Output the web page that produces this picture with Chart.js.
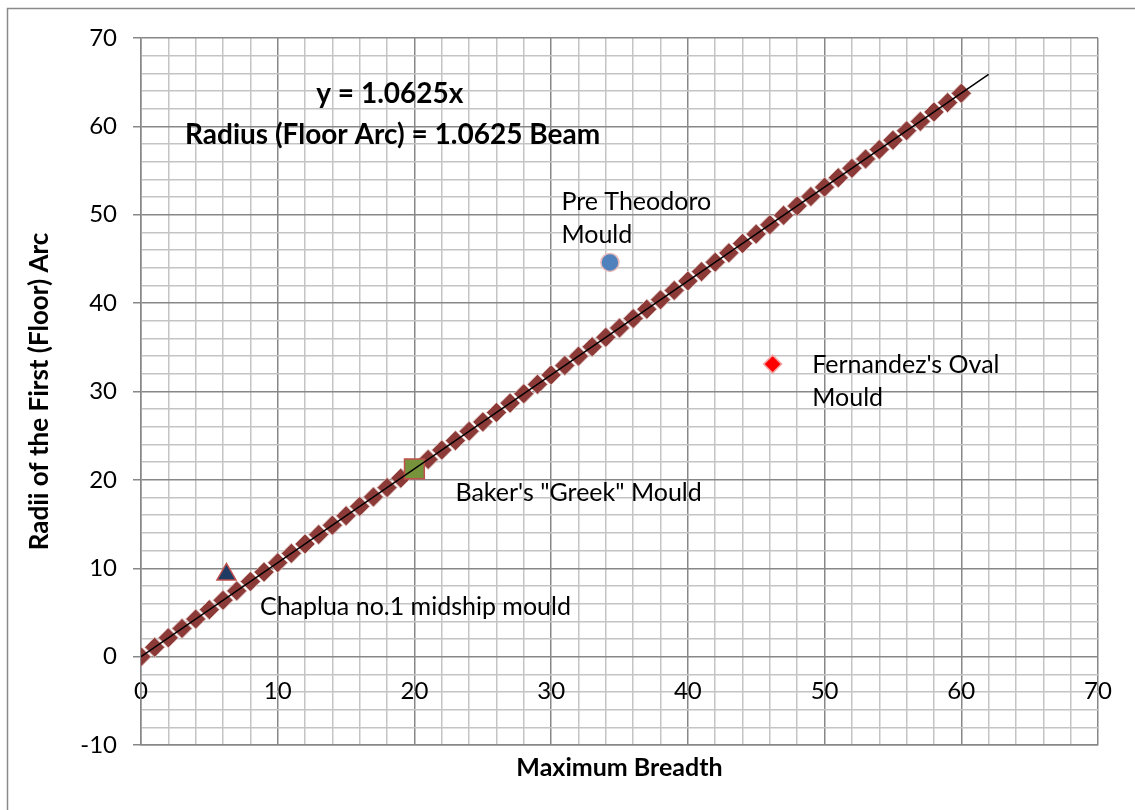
<!DOCTYPE html>
<html>
<head>
<meta charset="utf-8">
<script src="https://cdn.jsdelivr.net/npm/chart.js@4.4.0/dist/chart.umd.min.js"></script>
<style>
html, body { margin: 0; padding: 0; background: #fff; }
#wrap { width: 1135px; height: 810px; }
</style>
</head>
<body>
<div id="wrap"><canvas id="myChart"></canvas></div>
<script>
// fitted series (Radius = 1.0625 Beam)
const breadth = [0,1,2,3,4,5,6,7,8,9,10,11,12,13,14,15,16,17,18,19,20,21,22,23,24,25,26,27,28,29,30,
  31,32,33,34,35,36,37,38,39,40,41,42,43,44,45,46,47,48,49,50,51,52,53,54,55,56,57,58,59,60];
const radius = [0,1.0625,2.125,3.1875,4.25,5.3125,6.375,7.4375,8.5,9.5625,10.625,11.6875,12.75,13.8125,14.875,15.9375,
  17,18.0625,19.125,20.1875,21.25,22.3125,23.375,24.4375,25.5,26.5625,27.625,28.6875,29.75,30.8125,31.875,
  32.9375,34,35.0625,36.125,37.1875,38.25,39.3125,40.375,41.4375,42.5,43.5625,44.625,45.6875,46.75,47.8125,
  48.875,49.9375,51,52.0625,53.125,54.1875,55.25,56.3125,57.375,58.4375,59.5,60.5625,61.625,62.6875,63.75];

// trendline end points
const trendX = [0, 62];
const trendY = [0, 65.875];

// individual moulds
const mouldNames = [['Chaplua no.1 midship mould'], ['Baker\'s "Greek" Mould'], ['Pre Theodoro', 'Mould'], ["Fernandez's Oval", 'Mould']];
const mouldX = [6.25, 20, 34.3, 46.2];
const mouldY = [9.3, 21.25, 44.6, 33.1];

const equationText = ['y = 1.0625x', 'Radius (Floor Arc) = 1.0625 Beam'];
const xTitle = 'Maximum Breadth';
const yTitle = 'Radii of the First (Floor) Arc';

const FONT = 'Lato';
const major = '#878787';
const minor = '#c4c4c4';

function pts(xs, ys) { return xs.map((v, i) => ({x: v, y: ys[i]})); }

const frame = {
  id: 'frame',
  beforeDraw(chart) {
    const c = chart.ctx;
    c.save();
    c.strokeStyle = '#8a8a8a';
    c.lineWidth = 1.5;
    c.strokeRect(7.5, 8.5, 1300, 1300);
    c.restore();
  }
};

const notes = {
  id: 'notes',
  afterDatasetsDraw(chart) {
    const c = chart.ctx;
    const sx = chart.scales.x, sy = chart.scales.y;
    const put = (t, vx, vy) => c.fillText(t, sx.getPixelForValue(vx), sy.getPixelForValue(vy));
    c.save();
    c.fillStyle = '#000';
    c.textBaseline = 'middle';
    c.textAlign = 'left';
    c.font = '25px ' + FONT;
    // label offsets chosen to sit next to each marker
    put(mouldNames[0][0], 8.7, 5.65);
    put(mouldNames[1][0], 23.0, 18.55);
    put(mouldNames[2][0], 30.75, 51.4);
    put(mouldNames[2][1], 30.75, 47.7);
    put(mouldNames[3][0], 49.1, 33.0);
    put(mouldNames[3][1], 49.1, 29.3);
    c.textAlign = 'center';
    c.font = 'bold 28px ' + FONT;
    put(equationText[0], 18.2, 63.7);
    put(equationText[1], 18.4, 59.05);
    c.restore();
  }
};

const gridColor = c => (c.tick && c.tick.value % 10 === 0) ? major : minor;

new Chart(document.getElementById('myChart'), {
  type: 'scatter',
  data: {
    datasets: [
      {
        label: 'Linear',
        data: pts(trendX, trendY),
        showLine: true,
        borderColor: '#000',
        borderWidth: 1.5,
        pointRadius: 0,
        order: 0
      },
      {
        label: mouldNames[0].join(' '),
        data: [{x: mouldX[0], y: mouldY[0]}],
        pointStyle: 'triangle',
        pointRadius: 11,
        backgroundColor: '#1f3b63',
        borderColor: '#c0504d',
        borderWidth: 1.5,
        order: 1
      },
      {
        label: mouldNames[1].join(' '),
        data: [{x: mouldX[1], y: mouldY[1]}],
        pointStyle: 'rect',
        pointRadius: 14,
        backgroundColor: '#77933c',
        borderColor: '#c0504d',
        borderWidth: 1.5,
        order: 1
      },
      {
        label: mouldNames[2].join(' '),
        data: [{x: mouldX[2], y: mouldY[2]}],
        pointStyle: 'circle',
        pointRadius: 9,
        backgroundColor: '#4f81bd',
        borderColor: '#e6b9b8',
        borderWidth: 1.5,
        order: 1
      },
      {
        label: mouldNames[3].join(' '),
        data: [{x: mouldX[3], y: mouldY[3]}],
        pointStyle: 'rectRot',
        pointRadius: 9,
        backgroundColor: '#ff0000',
        borderColor: '#f2a5a5',
        borderWidth: 1.5,
        order: 1
      },
      {
        label: 'Radius',
        data: pts(breadth, radius),
        pointStyle: 'rectRot',
        pointRadius: 10,
        backgroundColor: '#8b3a37',
        borderColor: '#d9b8b6',
        borderWidth: 1,
        order: 5
      }
    ]
  },
  options: {
    responsive: true,
    maintainAspectRatio: false,
    animation: false,
    layout: { padding: { left: 20, top: 38, right: 37, bottom: 27 } },
    plugins: { legend: { display: false }, tooltip: { enabled: false } },
    scales: {
      x: {
        type: 'linear',
        min: 0, max: 70,
        afterFit(s) { s.height = 38; },
        ticks: { display: false, stepSize: 2, autoSkip: false },
        grid: { color: gridColor, lineWidth: 1.5, drawTicks: false },
        border: { color: major, width: 1.5 },
        title: { display: true, text: xTitle, color: '#000', font: { family: FONT, size: 25, weight: 'bold' }, padding: { top: 4, bottom: 0 } }
      },
      x2: {
        type: 'linear',
        axis: 'x',
        min: 0, max: 70,
        position: { y: 0 },
        grid: { display: false, drawTicks: false },
        border: { display: false },
        ticks: { stepSize: 10, padding: 20, color: '#000', font: { family: FONT, size: 24 } }
      },
      y: {
        min: -10, max: 70,
        afterFit(s) { s.width = 121; },
        ticks: {
          stepSize: 2, autoSkip: false, padding: 16, color: '#000',
          font: { family: FONT, size: 24 },
          callback: v => (v % 10 === 0 ? v : '')
        },
        grid: {
          color: gridColor, lineWidth: 1.5, tickLength: 8,
          tickColor: c => (c.tick && c.tick.value % 10 === 0) ? major : 'rgba(0,0,0,0)'
        },
        border: { color: major, width: 1.5 },
        title: { display: true, text: yTitle, color: '#000', font: { family: FONT, size: 26, weight: 'bold' }, padding: { top: 4, bottom: 0 } }
      }
    }
  },
  plugins: [frame, notes]
});
</script>
</body>
</html>
